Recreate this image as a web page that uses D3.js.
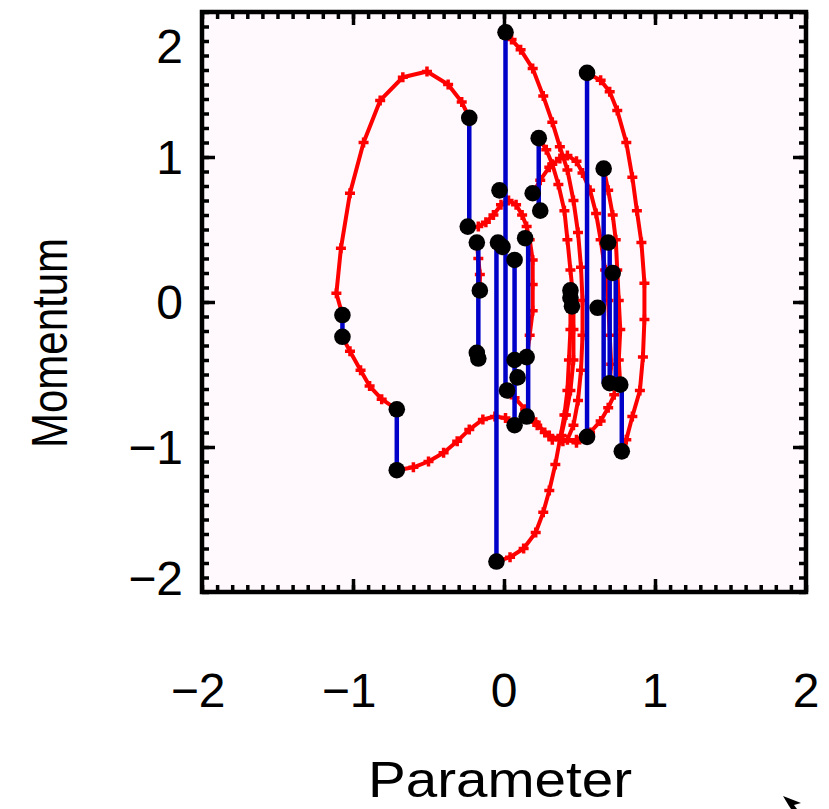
<!DOCTYPE html>
<html>
<head>
<meta charset="utf-8">
<script src="https://cdn.jsdelivr.net/npm/d3@7"></script>
<style>
  body { margin: 0; background: #fff; }
  text { font-family: "Liberation Sans", "DejaVu Sans", sans-serif; fill: #000; }
</style>
</head>
<body>
<svg class="chart" width="829" height="809"></svg>
<script>
// phase space plot: red = leapfrog trajectories, blue = momentum refresh

var svg = d3.select(".chart");

var xTicks = [-2, -1, 0, 1, 2];
var yTicks = [-2, -1, 0, 1, 2];
var xTitle = "Parameter";
var yTitle = "Momentum";

// trajectories, each one (parameter, momentum)
var traj1x = [-0.23, -0.28, -0.37, -0.51, -0.67, -0.82, -0.93, -1.02, -1.08, -1.11, -1.07];
var traj1y = [1.27, 1.38, 1.50, 1.59, 1.55, 1.39, 1.10, 0.75, 0.37, 0.06, -0.09];
var traj2x = [-1.07, -1.02, -0.95, -0.89, -0.81, -0.71];
var traj2y = [-0.24, -0.34, -0.47, -0.58, -0.67, -0.74];
var traj3x = [-0.71, -0.60, -0.50, -0.40, -0.31, -0.23, -0.14, -0.06, 0.01, 0.07];
var traj3y = [-1.16, -1.14, -1.10, -1.04, -0.96, -0.88, -0.81, -0.79, -0.80, -0.86];
var traj4x = [-0.23, -0.17, -0.12, -0.07, -0.02, 0.03, 0.08, 0.12, 0.15, 0.17, 0.19, 0.19, 0.19, 0.17, 0.15];
var traj4y = [0.51, 0.52, 0.55, 0.60, 0.67, 0.70, 0.67, 0.60, 0.52, 0.43, 0.29, 0.12, -0.06, -0.23, -0.38];
var traj5x = [-0.18, -0.17, -0.16, -0.16];
var traj5y = [0.41, 0.30, 0.19, 0.08];
var traj6x = [0.19, 0.24, 0.30, 0.37, 0.42, 0.48, 0.52, 0.57, 0.61, 0.64, 0.67, 0.69, 0.70, 0.71, 0.70];
var traj6y = [0.75, 0.84, 0.93, 0.99, 1.01, 0.97, 0.89, 0.77, 0.61, 0.43, 0.22, 0.01, -0.23, -0.43, -0.56];
var traj7x = [0.23, 0.28, 0.32, 0.36, 0.40, 0.42, 0.44, 0.46, 0.46, 0.46, 0.44, 0.41, 0.38, 0.32, 0.27, 0.21, 0.15];
var traj7y = [1.13, 1.05, 0.95, 0.81, 0.63, 0.43, 0.22, 0.01, -0.19, -0.40, -0.61, -0.78, -0.92, -0.95, -0.90, -0.83, -0.79];
var traj8x = [0.01, 0.05, 0.11, 0.19, 0.26, 0.32, 0.37, 0.42, 0.46, 0.49, 0.51, 0.52, 0.52, 0.51, 0.49, 0.46, 0.42, 0.48, 0.55];
var traj8y = [1.86, 1.81, 1.74, 1.61, 1.42, 1.24, 1.07, 0.91, 0.70, 0.48, 0.24, 0.01, -0.23, -0.47, -0.68, -0.85, -0.95, -0.97, -0.93];
var traj9x = [0.55, 0.64, 0.70, 0.75, 0.81, 0.85, 0.88, 0.91, 0.93, 0.93, 0.92, 0.90, 0.85, 0.81, 0.78];
var traj9y = [1.58, 1.53, 1.45, 1.32, 1.10, 0.86, 0.63, 0.41, 0.13, -0.12, -0.38, -0.61, -0.79, -0.95, -1.03];
var traj10x = [-0.05, 0.04, 0.13, 0.21, 0.26, 0.30, 0.34, 0.37, 0.40, 0.42, 0.43, 0.44, 0.44];
var traj10y = [-1.79, -1.76, -1.70, -1.59, -1.45, -1.30, -1.12, -0.95, -0.78, -0.61, -0.40, -0.19, 0.03];
var traj11x = [0.66, 0.69, 0.72, 0.74, 0.75, 0.76, 0.77, 0.76, 0.77];
var traj11y = [0.92, 0.77, 0.60, 0.43, 0.22, 0.01, -0.19, -0.40, -0.57];
var traj12x = [0.02, 0.07, 0.14, 0.22, 0.30, 0.39, 0.48, 0.57, 0.64, 0.69, 0.73];
var traj12y = [-0.61, -0.66, -0.74, -0.85, -0.92, -0.96, -0.95, -0.90, -0.82, -0.73, -0.64];

// momentum refresh jumps: parameter, momentum before, momentum after
var jumpX  = [-1.07, -0.71, -0.23, -0.17, -0.05, 0.01, 0.07, 0.16, 0.23, 0.55, 0.66, 0.70, 0.74, 0.78, 0.44];
var jumpP0 = [-0.09, -0.74, 1.27, 0.41, 0.41, 1.86, 0.29, 0.44, 1.13, 1.58, 0.92, 0.41, 0.20, -0.56, 0.08];
var jumpP1 = [-0.24, -1.16, 0.52, -0.39, -1.79, -0.61, -0.86, -0.79, 0.63, -0.93, -0.56, -0.56, -0.57, -1.03, -0.03];

// end points of the trajectories
var dotX = [0.01, 0.55, -0.23, 0.23, 0.66, -0.03, 0.19, 0.24, -0.24, 0.14, -0.18, -0.04, 0.69, -0.01, 0.07,
            0.72, -0.16, 0.44, 0.44, 0.45, 0.62, -1.07, -1.07, -0.18, -0.17, 0.15, 0.07, 0.09, 0.02, 0.70,
            0.77, -0.71, 0.15, 0.07, 0.55, 0.78, -0.71, -0.05];
var dotY = [1.86, 1.58, 1.27, 1.13, 0.92, 0.77, 0.75, 0.63, 0.52, 0.44, 0.41, 0.41, 0.41, 0.38, 0.29,
            0.20, 0.08, 0.08, 0.03, -0.03, -0.04, -0.09, -0.24, -0.35, -0.39, -0.38, -0.40, -0.52, -0.61, -0.56,
            -0.57, -0.74, -0.79, -0.85, -0.93, -1.03, -1.16, -1.79];

var trajs = [
  [traj1x, traj1y], [traj2x, traj2y], [traj3x, traj3y], [traj4x, traj4y],
  [traj5x, traj5y], [traj6x, traj6y], [traj7x, traj7y], [traj8x, traj8y],
  [traj9x, traj9y], [traj10x, traj10y], [traj11x, traj11y], [traj12x, traj12y]
].map(function (t) { return t[0].map(function (v, i) { return [v, t[1][i]]; }); });

var pLeft = 202, pRight = 806, pTop = 12, pBottom = 592;
var x = d3.scaleLinear().domain([-2, 2]).range([pLeft, pRight]);
var y = d3.scaleLinear().domain([-2, 2]).range([pBottom, pTop]);

// plot background
svg.append("rect")
  .attr("x", pLeft).attr("y", pTop)
  .attr("width", pRight - pLeft).attr("height", pBottom - pTop)
  .attr("fill", "#fff9fd");

var plot = svg.append("g");

var line = d3.line().x(d => x(d[0])).y(d => y(d[1]));

plot.selectAll(".traj")
  .data(trajs)
  .enter().append("path")
  .attr("class", "traj")
  .attr("d", line)
  .attr("fill", "none")
  .attr("stroke", "#ff0000")
  .attr("stroke-width", 4)
  .attr("stroke-linejoin", "round");

// little + marks at each leapfrog step
var steps = [].concat.apply([], trajs);
plot.selectAll(".step")
  .data(steps)
  .enter().append("path")
  .attr("class", "step")
  .attr("d", d => "M" + (x(d[0]) - 5) + "," + y(d[1]) + "h10M" + x(d[0]) + "," + (y(d[1]) - 5) + "v10")
  .attr("stroke", "#ff0000")
  .attr("stroke-width", 3.5);

plot.selectAll(".jump")
  .data(jumpX)
  .enter().append("line")
  .attr("class", "jump")
  .attr("x1", d => x(d)).attr("x2", d => x(d))
  .attr("y1", (d, i) => y(jumpP0[i]))
  .attr("y2", (d, i) => y(jumpP1[i]))
  .attr("stroke", "#0000c8")
  .attr("stroke-width", 4.5);

plot.selectAll(".dot")
  .data(dotX)
  .enter().append("circle")
  .attr("class", "dot")
  .attr("cx", d => x(d))
  .attr("cy", (d, i) => y(dotY[i]))
  .attr("r", 8.3)
  .attr("fill", "#000");

// tick marks, all pointing inwards
var minor = d3.range(-20, 21).map(d => d / 10);
var major = [-1, 0, 1];

function ticks(axis, pos, vals, size) {
  var g = svg.append("g")
    .attr("transform", pos)
    .call(axis.tickValues(vals).tickSize(size).tickFormat(""));
  g.select(".domain").remove();
  g.selectAll("line").attr("stroke", "#000").attr("stroke-width", 3.5);
}
ticks(d3.axisBottom(x), "translate(0," + pBottom + ")", minor, -7);
ticks(d3.axisBottom(x), "translate(0," + pBottom + ")", major, -13);
ticks(d3.axisTop(x), "translate(0," + pTop + ")", minor, -7);
ticks(d3.axisTop(x), "translate(0," + pTop + ")", major, -13);
ticks(d3.axisLeft(y), "translate(" + pLeft + ",0)", minor, -7);
ticks(d3.axisLeft(y), "translate(" + pLeft + ",0)", major, -13);
ticks(d3.axisRight(y), "translate(" + pRight + ",0)", minor, -7);
ticks(d3.axisRight(y), "translate(" + pRight + ",0)", major, -13);

// frame
svg.append("rect")
  .attr("x", pLeft).attr("y", pTop)
  .attr("width", pRight - pLeft).attr("height", pBottom - pTop)
  .attr("fill", "none")
  .attr("stroke", "#000")
  .attr("stroke-width", 4.5);

// tick labels
var fmt = d => (d < 0 ? "\u2212" + Math.abs(d) : "" + d);

svg.selectAll(".xlab")
  .data(xTicks)
  .enter().append("text")
  .attr("class", "xlab")
  .attr("x", d => x(d) - (d < 0 ? 4 : 0))
  .attr("y", 707)
  .attr("text-anchor", "middle")
  .attr("font-size", 48)
  .text(fmt);

svg.selectAll(".ylab")
  .data(yTicks)
  .enter().append("text")
  .attr("class", "ylab")
  .attr("x", 183)
  .attr("y", d => Math.min(Math.max(y(d), 46), 578) + 17)
  .attr("text-anchor", "end")
  .attr("font-size", 48)
  .text(fmt);

svg.append("text")
  .attr("x", 500)
  .attr("y", 797)
  .attr("text-anchor", "middle")
  .attr("font-size", 50)
  .attr("textLength", 264)
  .attr("lengthAdjust", "spacingAndGlyphs")
  .text(xTitle);

svg.append("text")
  .attr("transform", "translate(67,343) rotate(-90)")
  .attr("text-anchor", "middle")
  .attr("font-size", 50)
  .attr("textLength", 210)
  .attr("lengthAdjust", "spacingAndGlyphs")
  .text(yTitle);

// mouse pointer left in the corner of the screenshot
svg.append("path")
  .attr("d", "M783,796L801,803L794,805L797,809L791,809L789,806Z")
  .attr("fill", "#000");
</script>
</body>
</html>
